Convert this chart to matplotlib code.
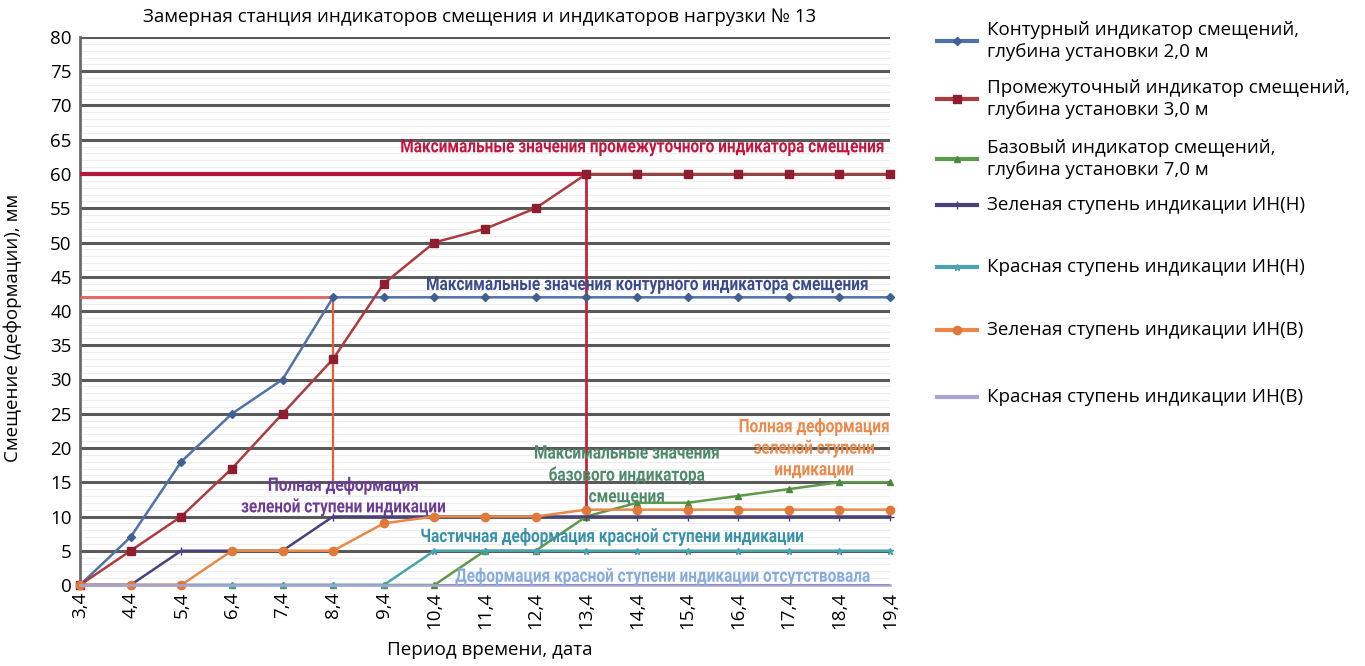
"""Measuring station No. 13: displacement indicators and load indicators over time."""

import matplotlib.pyplot as plt
from matplotlib.lines import Line2D
from matplotlib.patheffects import AbstractPathEffect
from matplotlib.ticker import MultipleLocator
from matplotlib.transforms import Affine2D

plt.rcParams["font.family"] = ["Open Sans", "DejaVu Sans"]


class Condensed(AbstractPathEffect):
    """Squeeze each text line horizontally about its centre.

    The source sets its callouts in a condensed bold face; none is installed,
    so a regular bold face is narrowed at draw time instead.
    """

    def __init__(self, sx=0.8):
        super().__init__()
        self.sx = sx

    def draw_path(self, renderer, gc, tpath, affine, rgbFace=None):
        ext = affine.transform_path(tpath).get_extents()
        cx = (ext.x0 + ext.x1) / 2
        squeeze = Affine2D().translate(-cx, 0).scale(self.sx, 1).translate(cx, 0)
        renderer.draw_path(gc, tpath, affine + squeeze, rgbFace)


dates = ["3,4", "4,4", "5,4", "6,4", "7,4", "8,4", "9,4", "10,4", "11,4",
         "12,4", "13,4", "14,4", "15,4", "16,4", "17,4", "18,4", "19,4"]

contour = [0, 7, 18, 25, 30, 42, 42, 42, 42, 42, 42, 42, 42, 42, 42, 42, 42]
intermediate = [0, 5, 10, 17, 25, 33, 44, 50, 52, 55, 60, 60, 60, 60, 60, 60, 60]
base = [0, 0, 0, 0, 0, 0, 0, 0, 5, 5, 10, 12, 12, 13, 14, 15, 15]
green_low = [0, 0, 5, 5, 5, 10, 10, 10, 10, 10, 10, 10, 10, 10, 10, 10, 10]
red_low = [0, 0, 0, 0, 0, 0, 0, 5, 5, 5, 5, 5, 5, 5, 5, 5, 5]
green_up = [0, 0, 0, 5, 5, 5, 9, 10, 10, 10, 11, 11, 11, 11, 11, 11, 11]
red_up = [0] * 17

labels = [
    "Контурный индикатор смещений,\nглубина установки 2,0 м",
    "Промежуточный индикатор смещений,\nглубина установки 3,0 м",
    "Базовый индикатор смещений,\nглубина установки 7,0 м",
    "Зеленая ступень индикации ИН(Н)",
    "Красная ступень индикации ИН(Н)",
    "Зеленая ступень индикации ИН(В)",
    "Красная ступень индикации ИН(В)",
]

# maximum-value markers: (value, date where it is reached, bottom of drop line)
max_mid, max_mid_date, max_mid_drop = 60, "13,4", 11
max_contour, max_contour_date, max_contour_drop = 42, "8,4", 15

W, H = 1365, 666
fig = plt.figure(figsize=(W / 100, H / 100), dpi=100)
ax = fig.add_axes([80 / W, 1 - 585 / H, 810 / W, 548 / H])
x = list(range(len(dates)))

ax.set_ylim(0, 80)
ax.set_xlim(0, len(dates) - 1)
ax.yaxis.set_major_locator(MultipleLocator(5))
ax.yaxis.set_minor_locator(MultipleLocator(1))
ax.grid(axis="y", which="major", color="#5a5a5a", lw=2.2, zorder=0)
ax.grid(axis="y", which="minor", color="#ededed", lw=0.8, zorder=0)
ax.tick_params(which="both", length=0)
ax.tick_params(axis="y", labelsize=13.5, pad=6)
ax.tick_params(axis="x", pad=5)
ax.set_xticks(x)
ax.set_xticklabels(dates, rotation=90, fontsize=13.5)
for side in ("top", "right", "bottom"):
    ax.spines[side].set_visible(False)
ax.spines["left"].set_color("#6a6a6a")
ax.spines["left"].set_linewidth(2)

# reference lines for the maxima
i_mid = dates.index(max_mid_date)
i_con = dates.index(max_contour_date)
ax.hlines(max_mid, 0, i_mid, color="#b5173c", lw=3, zorder=3)
ax.vlines(i_mid, max_mid_drop, max_mid, color="#c8203f", lw=2, zorder=3)
ax.hlines(max_contour, 0, i_con, color="#e56a6a", lw=2.2, zorder=3)
ax.vlines(i_con, max_contour_drop, max_contour, color="#e0603c", lw=1.6, zorder=3)

series = [
    (contour, "#4f72a8", "D", 4, "#3f5f95"),
    (intermediate, "#ac3b40", "s", 6, "#8e1d2e"),
    (base, "#5f9a4a", "^", 5, "#4a8a3c"),
    (green_low, "#4b3f7e", "+", 6, "#4b3f7e"),
    (red_low, "#4aa3ac", "*", 5, "#4aa3ac"),
    (green_up, "#e8894a", "o", 6, "#e07a3a"),
    (red_up, "#a9a3d6", "", 0, "#a9a3d6"),
]
for vals, col, mk, ms, mcol in series:
    ax.plot(x, vals, color=col, lw=1.8, marker=mk, ms=ms,
            mfc=mcol, mec=mcol, zorder=4, clip_on=False)

fig.text(480 / W, 1 - 17 / H,
         "Замерная станция индикаторов смещения и индикаторов нагрузки № 13",
         ha="center", va="center", fontsize=13.5)
ax.set_ylabel("Смещение (деформации), мм", fontsize=13.5)
ax.yaxis.set_label_coords(-0.071, 0.47)
fig.text(490 / W, 1 - 650 / H, "Период времени, дата", ha="center", va="center", fontsize=13.5)

notes = [
    (11.1, 63.9, "Максимальные значения промежуточного индикатора смещения", "#c4143c"),
    (11.2, 43.8, "Максимальные значения контурного индикатора смещения", "#3b4c8c"),
    (5.2, 12.9, "Полная деформация\nзеленой ступени индикации", "#6b3d92"),
    (10.8, 16.0, "Максимальные значения\nбазового индикатора\nсмещения", "#4e8a6a"),
    (14.5, 19.9, "Полная деформация\nзеленой ступени\nиндикации", "#ea8a4c"),
    (10.5, 7.0, "Частичная деформация красной ступени индикации", "#3a91aa"),
    (11.5, 1.2, "Деформация красной ступени индикации отсутствовала", "#86acdc"),
]
for nx, ny, txt, col in notes:
    ax.text(nx, ny, txt, color=col, ha="center", va="center", family=["Roboto", "DejaVu Sans"],
            fontsize=13.5, fontweight="bold", linespacing=1.25, zorder=5,
            path_effects=[Condensed(0.82)])

# legend, drawn by hand: the source spaces single-line entries wider
legend_y = [41, 99, 159, 205, 267, 330, 397]
for (vals, col, mk, ms, mcol), lab, ly in zip(series, labels, legend_y):
    yf = 1 - ly / H
    fig.add_artist(Line2D([937 / W, 977 / W], [yf, yf], color=col, lw=3,
                          transform=fig.transFigure))
    fig.add_artist(Line2D([957 / W], [yf], marker=mk, ms=ms, mfc=mcol, mec=mcol,
                          transform=fig.transFigure))
    fig.text(987 / W, yf, lab, ha="left", va="center", fontsize=13.5, linespacing=1.3)

fig.savefig("out.png", dpi=100)
